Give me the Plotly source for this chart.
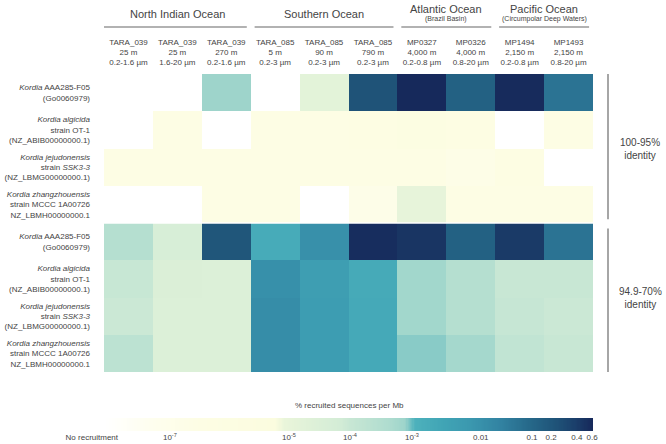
import numpy as np
import plotly.graph_objects as go

# ---------------- data ----------------
SAMPLES = [
    "TARA_039<br>25 m<br>0.2-1.6 µm",
    "TARA_039<br>25 m<br>1.6-20 µm",
    "TARA_039<br>270 m<br>0.2-1.6 µm",
    "TARA_085<br>5 m<br>0.2-3 µm",
    "TARA_085<br>90 m<br>0.2-3 µm",
    "TARA_085<br>790 m<br>0.2-3 µm",
    "MP0327<br>4,000 m<br>0.2-0.8 µm",
    "MP0326<br>4,000 m<br>0.8-20 µm",
    "MP1494<br>2,150 m<br>0.2-0.8 µm",
    "MP1493<br>2,150 m<br>0.8-20 µm",
]

GENOMES = [
    "<i>Kordia</i> AAA285-F05<br>(Go0060979)",
    "<i>Kordia algicida</i><br>strain OT-1<br>(NZ_ABIB00000000.1)",
    "<i>Kordia jejudonensis</i><br>strain <i>SSK3-3</i><br>(NZ_LBMG00000000.1)",
    "<i>Kordia zhangzhouensis</i><br>strain MCCC 1A00726<br>NZ_LBMH00000000.1",
    "<i>Kordia</i> AAA285-F05<br>(Go0060979)",
    "<i>Kordia algicida</i><br>strain OT-1<br>(NZ_ABIB00000000.1)",
    "<i>Kordia jejudonensis</i><br>strain <i>SSK3-3</i><br>(NZ_LBMG00000000.1)",
    "<i>Kordia zhangzhouensis</i><br>strain MCCC 1A00726<br>NZ_LBMH00000000.1",
]

# % recruited sequences per Mb (0 = no recruitment)
RECRUIT_HIGH_ID = [
    [0, 0, 7.6e-4, 0, 1.5e-5, 0.23, 0.6, 0.13, 0.58, 0.052],
    [0, 4e-7, 0, 3e-7, 4e-7, 5e-7, 1e-6, 6e-7, 0, 3e-7],
    [4e-7, 4e-7, 3e-7, 3e-7, 4e-7, 4e-7, 3e-7, 2e-7, 5e-7, 0],
    [0, 0, 3e-7, 4e-7, 0, 1.5e-7, 1e-5, 3e-7, 4e-7, 3e-7],
]
RECRUIT_LOW_ID = [
    [2.9e-4, 4.6e-5, 0.21, 1.7e-3, 0.01, 0.55, 0.47, 0.13, 0.42, 0.052],
    [1.05e-4, 3.2e-5, 3.0e-5, 0.0105, 4.5e-3, 1.9e-3, 6.5e-4, 2.9e-4, 1.0e-4, 1.0e-4],
    [9e-5, 3.0e-5, 3.0e-5, 0.0125, 4.8e-3, 2.0e-3, 6.5e-4, 2.9e-4, 1.1e-4, 9e-5],
    [2e-4, 3.0e-5, 3.0e-5, 0.0125, 4.8e-3, 2.0e-3, 8.5e-4, 5.9e-4, 1.5e-4, 1.0e-4],
]

OCEANS = ["North Indian Ocean", "Southern Ocean", "Atlantic Ocean", "Pacific Ocean"]
OCEAN_SUBTITLES = ["", "", "(Brazil Basin)", "(Circumpolar Deep Waters)"]
OCEAN_COLUMNS = [(0, 2), (3, 5), (6, 7), (8, 9)]

IDENTITY_LABELS = ["100-95%<br>identity", "94.9-70%<br>identity"]
IDENTITY_ROWS = [(0, 3), (4, 7)]

CBAR_TITLE = "% recruited sequences per Mb"
CBAR_NONE_LABEL = "No recruitment"
CBAR_TICK_VALUES = [1e-7, 1e-5, 1e-4, 1e-3, 0.01, 0.1, 0.2, 0.4, 0.6]
CBAR_TICK_TEXT = ["10<sup>-7</sup>", "10<sup>-5</sup>", "10<sup>-4</sup>", "10<sup>-3</sup>",
                  "0.01", "0.1", "0.2", "0.4", "0.6"]
# non-uniform colour-bar scale (fraction of bar length at each tick value)
CBAR_TICK_POS = [0.133, 0.377, 0.502, 0.629, 0.770, 0.875, 0.914, 0.967, 0.998]

# ---------------- style ----------------
W, H = 666, 444
FONT = "Liberation Sans"
TXT = "#444444"

COLORSCALE = [
    [0.000, "#ffffff"], [0.092, "#fefeef"], [0.195, "#fdfde4"], [0.348, "#fbfcdf"],
    [0.369, "#e9f5da"], [0.482, "#d3ecd6"], [0.502, "#c8e7d4"], [0.584, "#aedccf"],
    [0.615, "#9dd4cb"], [0.635, "#4db1bc"], [0.695, "#40a4b5"], [0.748, "#3b98af"],
    [0.809, "#3283a2"], [0.871, "#266889"], [0.922, "#1f5479"], [0.963, "#1b3f6b"],
    [1.000, "#16285a"],
]

log_ticks = np.log10(CBAR_TICK_VALUES)


def scale_pos(v):
    v = np.asarray(v, dtype=float)
    out = np.zeros_like(v)
    m = v > 0
    out[m] = np.interp(np.log10(v[m]), log_ticks, CBAR_TICK_POS)
    return out


values = np.array(RECRUIT_HIGH_ID + RECRUIT_LOW_ID, dtype=float)
zpos = scale_pos(values)

px = lambda p: p / W
py = lambda p: 1 - p / H

fig = go.Figure()

fig.add_trace(go.Heatmap(
    z=zpos, x=list(range(len(SAMPLES))), y=list(range(len(GENOMES))),
    colorscale=COLORSCALE, zmin=0, zmax=1, showscale=False,
    customdata=values, hovertemplate="%{customdata:.2g}<extra></extra>",
    xaxis="x", yaxis="y",
))

# colour bar as its own strip
n = 400
edges = np.linspace(0, 1, n + 1)
fig.add_trace(go.Heatmap(
    z=[(edges[:-1] + edges[1:]) / 2], x=edges, y=[0, 1],
    colorscale=COLORSCALE, zmin=0, zmax=1, showscale=False,
    hoverinfo="skip", xaxis="x2", yaxis="y2",
))

bar_l, bar_r = 105, 593
x2_min = -0.12
x2_dom_l = bar_l + x2_min * (bar_r - bar_l)

fig.update_layout(
    width=W, height=H, margin=dict(l=0, r=0, t=0, b=0, autoexpand=False),
    paper_bgcolor="white", plot_bgcolor="white",
    font=dict(family=FONT, color=TXT, size=8),
    showlegend=False,
    xaxis=dict(
        domain=[px(104), px(593)], range=[-0.5, len(SAMPLES) - 0.5],
        side="top", tickvals=list(range(len(SAMPLES))), ticktext=SAMPLES,
        ticks="", showgrid=False, zeroline=False, showline=False, automargin=False,
        tickfont=dict(size=8, color=TXT), ticklabelstandoff=6, fixedrange=True,
    ),
    yaxis=dict(
        domain=[py(372), py(74)], range=[len(GENOMES) - 0.5, -0.5],
        tickvals=list(range(len(GENOMES))), ticktext=GENOMES,
        ticks="", showgrid=False, zeroline=False, showline=False, automargin=False,
        tickfont=dict(size=8, color=TXT), ticklabelstandoff=13, fixedrange=True,
    ),
    xaxis2=dict(
        domain=[px(x2_dom_l), px(bar_r)], range=[x2_min, 1], anchor="y2",
        tickvals=[-0.027] + CBAR_TICK_POS, ticktext=[CBAR_NONE_LABEL] + CBAR_TICK_TEXT,
        ticks="", showgrid=False, zeroline=False, showline=False, automargin=False,
        tickfont=dict(size=8, color=TXT), ticklabelstandoff=0, fixedrange=True,
    ),
    yaxis2=dict(
        domain=[py(431), py(418)], range=[0, 1], anchor="x2", automargin=False,
        showticklabels=False, ticks="", showgrid=False, zeroline=False, fixedrange=True,
    ),
)

shapes = []
annotations = []

# white separator between identity groups
shapes.append(dict(type="line", xref="x", yref="y", x0=-0.5, x1=len(SAMPLES) - 0.5,
                   y0=3.5, y1=3.5, line=dict(color="white", width=1.5), layer="above"))

# ocean headers
for name, sub, (a, b) in zip(OCEANS, OCEAN_SUBTITLES, OCEAN_COLUMNS):
    inset_l = 0.0 if a == 0 else 0.08
    shapes.append(dict(type="line", xref="x", yref="paper",
                       x0=a - 0.5 + inset_l, x1=b + 0.5 - 0.08, y0=py(27), y1=py(27),
                       line=dict(color="#666666", width=1.2)))
    if sub:
        annotations.append(dict(text=name, xref="x", yref="paper", x=(a + b) / 2, y=py(9),
                                showarrow=False, font=dict(size=11, color=TXT),
                                xanchor="center", yanchor="middle"))
        annotations.append(dict(text=sub, xref="x", yref="paper", x=(a + b) / 2, y=py(19),
                                showarrow=False, font=dict(size=7, color=TXT),
                                xanchor="center", yanchor="middle"))
    else:
        annotations.append(dict(text=name, xref="x", yref="paper", x=(a + b) / 2, y=py(14),
                                showarrow=False, font=dict(size=11, color=TXT),
                                xanchor="center", yanchor="middle"))

# identity brackets
for lab, (a, b) in zip(IDENTITY_LABELS, IDENTITY_ROWS):
    y0 = a - 0.5 + (0.0 if a == 0 else 0.15)
    y1 = b + 0.5 - (0.1 if a == 0 else 0.0)
    shapes.append(dict(type="line", xref="paper", yref="y", x0=px(608), x1=px(608),
                       y0=y0, y1=y1, line=dict(color="#888888", width=1.5)))
    annotations.append(dict(text=lab, xref="paper", yref="y", x=px(640), y=(a + b) / 2,
                            showarrow=False, font=dict(size=10, color=TXT),
                            xanchor="center", yanchor="middle", align="center"))

# colour bar title
annotations.append(dict(text=CBAR_TITLE, xref="x2", yref="paper", x=0.5, y=py(405),
                        showarrow=False, font=dict(size=8, color=TXT),
                        xanchor="center", yanchor="middle"))

fig.update_layout(shapes=shapes, annotations=annotations)

fig.write_html(
    "out.html",
    config={"displayModeBar": False},
    post_script="document.body.style.margin='0';document.body.style.overflow='hidden';",
)
